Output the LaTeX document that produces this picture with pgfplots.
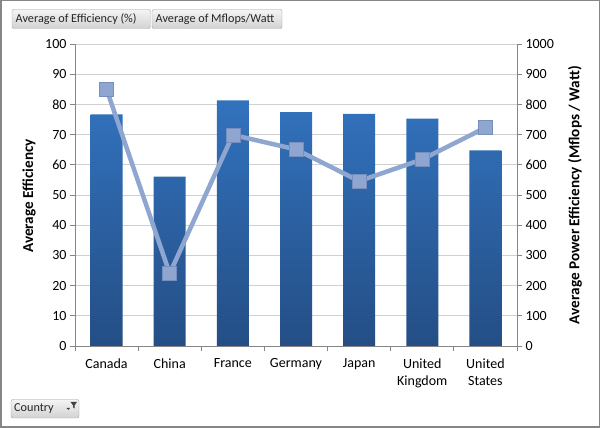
\documentclass[border=0pt]{standalone}
\usepackage{fontspec}
\setmainfont{Carlito}
\usepackage{pgfplots}
\pgfplotsset{compat=1.18}
\definecolor{barTop}{RGB}{50,114,189}
\definecolor{barBot}{RGB}{36,78,133}
\definecolor{lineC}{RGB}{143,166,208}
\definecolor{markTop}{RGB}{168,184,220}
\definecolor{markBot}{RGB}{120,142,190}
\definecolor{gridC}{RGB}{208,208,208}
\definecolor{axisC}{RGB}{134,134,134}
\definecolor{btnT}{RGB}{244,244,244}
\definecolor{btnB}{RGB}{210,210,210}
\definecolor{btnD}{RGB}{160,160,160}
\begin{document}
\begin{tikzpicture}[x=1pt,y=1pt]
\useasboundingbox (0,0) rectangle (600,428);
\fill[white] (0,0) rectangle (600,428);
\draw[axisC, line width=1.5pt] (0.75,0.75) rectangle (599.25,427.25);
\begin{axis}[
 at={(75pt,82pt)}, anchor=south west,
 scale only axis, width=442pt, height=302pt,
 xmin=-0.5, xmax=6.5, ymin=0, ymax=100,
 axis y line*=left, axis x line*=bottom,
 axis line style={draw=axisC, line width=0.8pt},
 ytick={0,10,...,100},
 ymajorgrids, grid style={draw=gridC, line width=0.8pt},
 xtick={-0.5,0.5,...,6.5}, xticklabels={},
 extra x ticks={0,...,6},
 extra x tick labels={Canada,China,France,Germany,Japan,{United\\Kingdom},{United\\States}},
 extra x tick style={major tick length=0pt, grid=none},
 tick align=outside, major tick length=5pt,
 tick style={draw=axisC, line width=0.8pt},
 tick label style={font=\fontsize{14}{17}\selectfont, text=black},
 x tick label style={align=center, yshift=-9pt},
 /pgf/number format/assume math mode=true,
 ylabel={Average Efficiency},
 ylabel style={font=\bfseries\fontsize{15.2}{17}\selectfont, at={(axis description cs:-0.104,0.497)}, anchor=center},
 clip=false,
]
\addplot[ybar, bar width=32pt, draw=none, top color=barTop, bottom color=barBot] coordinates {(0,76.7)(1,56.1)(2,81.3)(3,77.4)(4,76.9)(5,75.3)(6,64.8)};
\end{axis}
\begin{axis}[
 at={(75pt,82pt)}, anchor=south west,
 scale only axis, width=442pt, height=302pt,
 xmin=-0.5, xmax=6.5, ymin=0, ymax=1000,
 axis y line*=right, axis x line=none,
 axis line style={draw=axisC, line width=0.8pt},
 ytick={0,100,...,1000},
 tick align=outside, major tick length=5pt,
 tick style={draw=axisC, line width=0.8pt},
 tick label style={font=\fontsize{14}{17}\selectfont, text=black},
 /pgf/number format/assume math mode=true,
 /pgf/number format/1000 sep={},
 ylabel={Average Power Efficiency (Mflops / Watt)},
 ylabel style={font=\bfseries\fontsize{15.2}{17}\selectfont, at={(axis description cs:1.131,0.5)}, anchor=center},
 clip=false,
]
\addplot[lineC, line width=4.5pt, mark=square*, mark size=7pt, mark options={draw=markBot, line width=0.6pt, top color=markTop, bottom color=markBot}] coordinates {(0,850)(1,240)(2,699)(3,651)(4,546)(5,618)(6,723)};
\end{axis}
% buttons
\draw[rounded corners=2pt, draw=btnD, top color=btnT, bottom color=btnB] (12,399.5) rectangle (150.5,418.5);
\node[anchor=west, inner sep=0pt, font=\fontsize{12.2}{14}\selectfont, text=black!85] at (15.5,409) {Average of Efficiency (\%)};
\draw[rounded corners=2pt, draw=btnD, top color=btnT, bottom color=btnB] (152,399.5) rectangle (282,418.5);
\node[anchor=west, inner sep=0pt, font=\fontsize{12.2}{14}\selectfont, text=black!85] at (155.5,409) {Average of Mflops/Watt};
\draw[rounded corners=2pt, draw=btnD, top color=btnT, bottom color=btnB] (11,10) rectangle (79,28.5);
\node[anchor=west, inner sep=0pt, font=\fontsize{12.2}{14}\selectfont, text=black!85] at (14,19) {Country};
\fill[black!75] (70.5,26) -- (77,26) -- (74.5,22.5) -- (74.5,19.5) -- (73.2,20.5) -- (73.2,22.5) -- cycle;
\fill[black!75] (66.5,20) -- (70,20) -- (68.25,18) -- cycle;
\end{tikzpicture}
\end{document}
